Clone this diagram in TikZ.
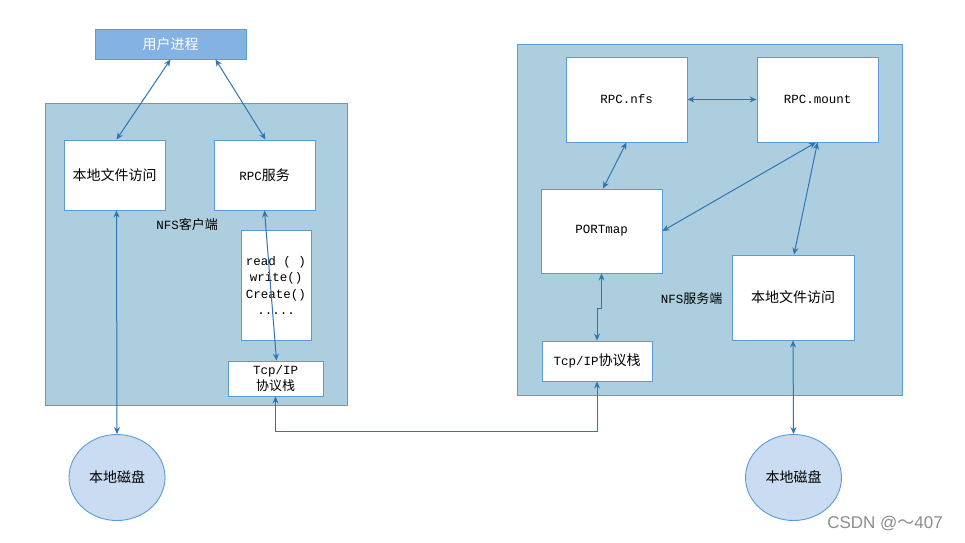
\documentclass[tikz,border=0pt]{standalone}
\usepackage{fontspec}
\setmainfont{Noto Sans CJK SC}
\newfontfamily\mono{Liberation Mono}
\newfontfamily\wmfont{Liberation Sans}
\usetikzlibrary{arrows.meta,shapes.geometric}
\definecolor{bordc}{RGB}{91,155,213}
\definecolor{outerfill}{RGB}{173,206,222}
\definecolor{userfill}{RGB}{132,179,227}
\definecolor{diskfill}{RGB}{202,220,241}
\definecolor{arrc}{RGB}{46,117,182}
\begin{document}
\begin{tikzpicture}[x=1pt,y=-1pt,
  outerbox/.style={draw=bordc, fill=outerfill, line width=0.9pt, inner sep=0pt},
  whitebox/.style={draw=bordc, fill=white, line width=0.9pt, inner sep=0pt, align=center, font=\fontsize{14}{16}\selectfont},
  userbox/.style={draw=bordc, fill=userfill, line width=0.9pt, inner sep=0pt, text=white, font=\fontsize{14}{16}\selectfont},
  disk/.style={ellipse, draw=bordc, fill=diskfill, line width=0.9pt, inner sep=0pt, minimum width=96pt, minimum height=86pt, font=\fontsize{14}{16}\selectfont},
  lbl/.style={inner sep=0pt, font=\fontsize{13}{16}\selectfont},
  conn/.style={draw=arrc, line width=1pt, {Stealth[length=7pt,width=6pt]}-{Stealth[length=7pt,width=6pt]}}
]
\useasboundingbox (0,0) rectangle (965,542);

% outer containers
\node[outerbox, minimum width=302pt, minimum height=302pt] (client) at (196,254) {};
\node[outerbox, minimum width=385pt, minimum height=351pt] (server) at (709.5,219.5) {};

% top
\node[userbox, minimum width=151pt, minimum height=30pt] (user) at (170.5,44) {用户进程};

% client side
\node[whitebox, minimum width=101pt, minimum height=70pt] (cfile) at (114.5,175) {本地文件访问};
\node[whitebox, minimum width=101pt, minimum height=70pt] (rpcs) at (264.5,175) {{\mono\fontsize{12.5}{16}\selectfont RPC}服务};
\node[lbl] (clbl) at (187,225) {{\mono\fontsize{12.5}{16}\selectfont NFS}客户端};
\node[whitebox, minimum width=70pt, minimum height=110pt, font=\mono\fontsize{12.5}{16.3}\selectfont] (ops) at (276,285.5) {read ( )\\write()\\Create()\\.....};
\node[whitebox, minimum width=95pt, minimum height=35pt, font=\fontsize{13}{15.5}\selectfont] (ctcp) at (275.5,378.5) {{\mono\fontsize{12.5}{15}\selectfont Tcp/IP}\\协议栈};
\node[disk] (ldisk) at (117,477.5) {本地磁盘};

% server side
\node[whitebox, minimum width=121pt, minimum height=85pt, font=\mono\fontsize{12.5}{16}\selectfont] (nfs) at (626.5,99.5) {RPC.nfs};
\node[whitebox, minimum width=121pt, minimum height=85pt, font=\mono\fontsize{12.5}{16}\selectfont] (mount) at (817.5,99.5) {RPC.mount};
\node[whitebox, minimum width=121pt, minimum height=84pt, font=\mono\fontsize{12.5}{16}\selectfont] (port) at (601.5,231) {PORTmap};
\node[whitebox, minimum width=122pt, minimum height=85pt] (sfile) at (793,297.5) {本地文件访问};
\node[lbl] (slbl) at (691.5,299) {{\mono\fontsize{12.5}{16}\selectfont NFS}服务端};
\node[whitebox, minimum width=110pt, minimum height=40pt] (stcp) at (597,361) {{\mono\fontsize{12.5}{16}\selectfont Tcp/IP}协议栈};
\node[disk] (rdisk) at (793.5,477.5) {本地磁盘};

% connectors
\draw[conn] (user.south) -- ([xshift=2pt]cfile.north);
\draw[conn] ([xshift=45pt]user.south) -- ([xshift=1pt]rpcs.north);
\draw[conn] ([xshift=2pt]cfile.south) -- (ldisk.north);
\draw[conn] (rpcs.south) -- ([xshift=1pt]ctcp.north);
\draw[conn] (ctcp.south) -- ++(0,35) -| (stcp.south);
\draw[conn] (port.south) -- ++(0,35) -| (stcp.north);
\draw[conn] (nfs.south) -- ([xshift=1.5pt]port.north);
\draw[conn] (nfs.east) -- (mount.west);
\draw[conn] ([xshift=-1.5pt]mount.south) -- (port.east);
\draw[conn] (mount.south) -- ([xshift=1pt]sfile.north);
\draw[conn] (sfile.south) -- (rdisk.north);

% watermark
\node[inner sep=0pt, text=black!45, font=\wmfont\fontsize{17}{18}\selectfont] (wm) at (885,524) {CSDN @{\fontspec{Noto Sans CJK SC}～}407};
\end{tikzpicture}
\end{document}
